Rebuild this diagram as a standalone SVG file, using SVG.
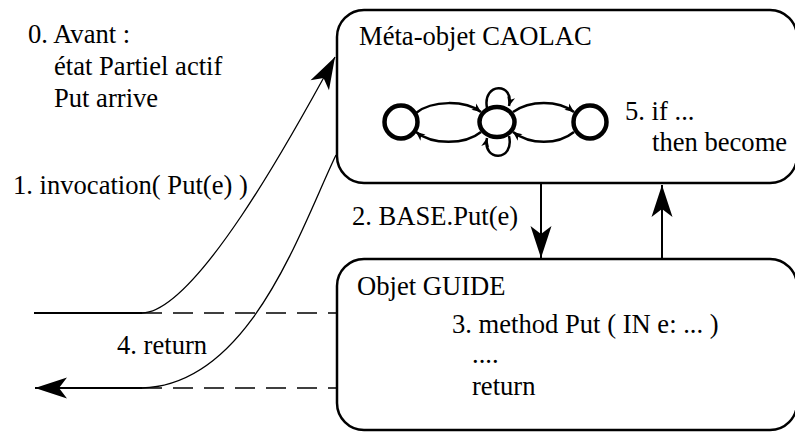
<svg xmlns="http://www.w3.org/2000/svg" width="795" height="432" viewBox="0 0 795 432">
<style>
text{font-family:"Liberation Serif","Times New Roman",Times,serif;font-size:26.6px;fill:#000}
.box{fill:#fff;stroke:#000;stroke-width:2.5}
.st{fill:none;stroke:#000;stroke-width:4.5}
.arc{fill:none;stroke:#000;stroke-width:2.5}
.thin{fill:none;stroke:#000;stroke-width:1.3}
.solid{fill:none;stroke:#000;stroke-width:2}
.dash{fill:none;stroke:#000;stroke-width:1.3;stroke-dasharray:20 11}
</style>
<defs>
<marker id="big" viewBox="-33 -11 34 22" markerWidth="34" markerHeight="22" refX="0" refY="0" orient="auto" markerUnits="userSpaceOnUse">
<path d="M0,0 L-32,-10.5 L-24,0 L-32,10.5 Z" fill="#000"/>
</marker>
<marker id="small" viewBox="-10 -5 11 10" markerWidth="11" markerHeight="10" refX="0" refY="0" orient="auto" markerUnits="userSpaceOnUse">
<path d="M0,0 L-9,-4 L-6.5,0 L-9,4 Z" fill="#000"/>
</marker>
</defs>

<g id="meta-objet">
<rect class="box" x="337" y="10" width="460" height="173" rx="27"/>
<text x="359" y="45">Méta-objet CAOLAC</text>
<g id="automate">
<circle class="st" cx="401" cy="122" r="16.5"/>
<ellipse class="st" cx="497" cy="122" rx="17.5" ry="15"/>
<circle class="st" cx="590" cy="122" r="16.5"/>
<path class="arc" d="M416,113 C432,100 465,100 481,112" marker-end="url(#small)"/>
<path class="arc" d="M481,132 C465,145 432,145 416,132" marker-end="url(#small)"/>
<path class="arc" d="M513,112 C530,100 558,100 574,112" marker-end="url(#small)"/>
<path class="arc" d="M574,132 C558,145 530,145 513,132" marker-end="url(#small)"/>
<path class="arc" d="M487,108 C482,82 515,82 509,106" marker-end="url(#small)"/>
<path class="arc" d="M509,136 C515,162 482,162 487,138" marker-end="url(#small)"/>
</g>
<text x="625" y="120">5. if ...</text>
<text x="652" y="151">then become</text>
</g>

<g id="objet-guide">
<rect class="box" x="337" y="259" width="460" height="171" rx="27"/>
<text x="357" y="295">Objet GUIDE</text>
<text x="452" y="333">3. method Put ( IN e: ... )</text>
<text x="472" y="363">....</text>
<text x="472" y="395">return</text>
</g>

<g id="notes">
<text x="28" y="43">0. Avant :</text>
<text x="54" y="75">état Partiel actif</text>
<text x="54" y="107">Put arrive</text>
<text x="13" y="194">1. invocation( Put(e) )</text>
<text x="117" y="354">4. return</text>
<text x="352" y="225">2. BASE.Put(e)</text>
</g>

<g id="connectors">
<path class="solid" d="M34,313 L142,313"/>
<path class="dash" d="M142,313 L337,313"/>
<path class="dash" d="M142,388 L337,388"/>
<path class="solid" d="M142,388 L35,388" marker-end="url(#big)"/>
<path class="thin" d="M142,313 C195,312 290,140 335,57" marker-end="url(#big)"/>
<path class="thin" d="M336,155 C300,230 250,385 142,388"/>
<path class="solid" d="M541,183 L541,258" marker-end="url(#big)"/>
<path class="solid" d="M662,259 L662,185" marker-end="url(#big)"/>
</g>
</svg>
